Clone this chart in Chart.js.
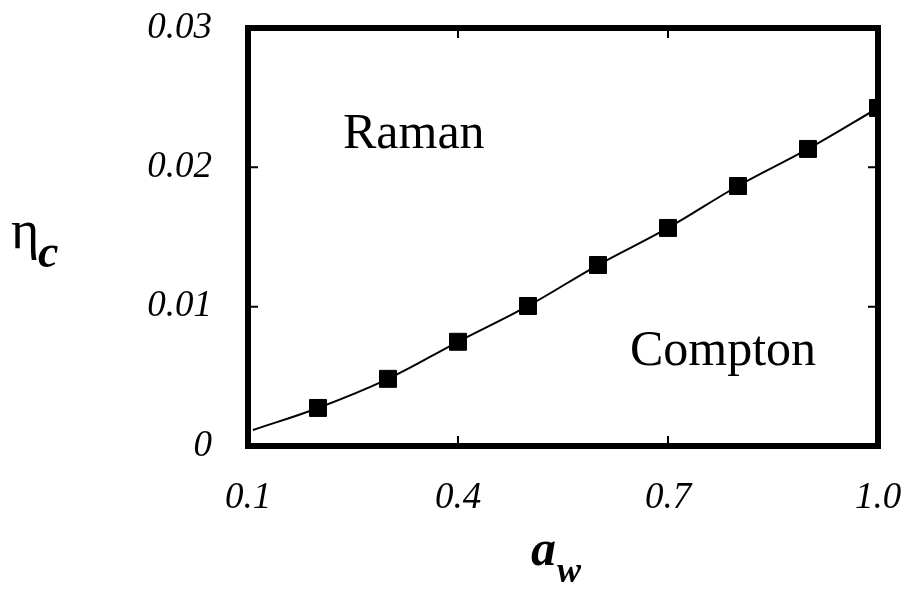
<!DOCTYPE html>
<html>
<head>
<meta charset="utf-8">
<script src="https://cdn.jsdelivr.net/npm/chart.js@4.4.1/dist/chart.umd.min.js"></script>
<style>
  html, body { margin: 0; padding: 0; background: #ffffff; }
  canvas { display: block; }
</style>
</head>
<body>
<canvas id="c" width="909" height="591"></canvas>
<script>
// Critical threshold eta_c versus wiggler parameter a_w
const awSamples   = [0.2, 0.3, 0.4, 0.5, 0.6, 0.7, 0.8, 0.9, 1.0];
const etaSamples  = [0.00273, 0.00482, 0.00748, 0.01005, 0.01299, 0.01565, 0.01866, 0.02132, 0.02426];
const awCurve     = [0.107, 0.2, 0.3, 0.4, 0.5, 0.6, 0.7, 0.8, 0.9, 1.0];
const etaCurve    = [0.00115, 0.00273, 0.00482, 0.00748, 0.01005, 0.01299, 0.01565, 0.01866, 0.02132, 0.02426];
const xTickValues = [0.1, 0.4, 0.7, 1.0];
const xTickLabels = ['0.1', '0.4', '0.7', '1.0'];
const yTickValues = [0, 0.01, 0.02, 0.03];
const yTickLabels = ['0', '0.01', '0.02', '0.03'];
const regionLabels = [
  { text: 'Raman',   x: 0.2357, y: 0.02139 },
  { text: 'Compton', x: 0.6457, y: 0.00581 }
];

const tickFont = { family: "'Liberation Serif', 'DejaVu Serif', serif", size: 37, style: 'italic' };

// Frame, inward ticks, region labels and axis titles
const decorations = {
  id: 'decorations',
  afterDatasetsDraw(chart) {
    const { ctx, chartArea: a, scales: { x, y } } = chart;
    ctx.save();
    ctx.strokeStyle = '#000';
    ctx.lineWidth = 2;
    const tl = 10;
    xTickValues.forEach(v => {
      const px = x.getPixelForValue(v);
      ctx.beginPath();
      ctx.moveTo(px, a.bottom); ctx.lineTo(px, a.bottom - tl);
      ctx.moveTo(px, a.top);    ctx.lineTo(px, a.top + tl);
      ctx.stroke();
    });
    yTickValues.forEach(v => {
      const py = y.getPixelForValue(v);
      ctx.beginPath();
      ctx.moveTo(a.left, py);  ctx.lineTo(a.left + tl, py);
      ctx.moveTo(a.right, py); ctx.lineTo(a.right - tl, py);
      ctx.stroke();
    });
    ctx.lineWidth = 6;
    ctx.strokeRect(a.left, a.top, a.right - a.left, a.bottom - a.top);

    ctx.fillStyle = '#000';
    ctx.textBaseline = 'alphabetic';
    ctx.textAlign = 'left';
    ctx.font = "50px 'Liberation Serif', serif";
    regionLabels.forEach(r => {
      ctx.fillText(r.text, x.getPixelForValue(r.x), y.getPixelForValue(r.y));
    });

    // y-axis title: eta with subscript c
    ctx.font = "54px 'Liberation Serif', serif";
    ctx.fillText('\u03b7', 11, 248);
    ctx.font = "italic bold 46px 'Liberation Serif', serif";
    ctx.fillText('c', 38, 267);

    // x-axis title: a with subscript w
    ctx.font = "italic bold 50px 'Liberation Serif', serif";
    ctx.fillText('a', 531, 565);
    ctx.font = "italic bold 36px 'Liberation Serif', serif";
    ctx.fillText('w', 557, 582);
    ctx.restore();
  }
};

new Chart(document.getElementById('c'), {
  type: 'scatter',
  data: {
    datasets: [
      {
        data: awCurve.map((v, i) => ({ x: v, y: etaCurve[i] })),
        showLine: true,
        borderColor: '#000',
        borderWidth: 2,
        pointRadius: 0,
        tension: 0.4,
        fill: false
      },
      {
        data: awSamples.map((v, i) => ({ x: v, y: etaSamples[i] })),
        showLine: false,
        pointStyle: 'rect',
        pointRadius: 12,
        pointBorderWidth: 1,
        pointBackgroundColor: '#000',
        pointBorderColor: '#000'
      }
    ]
  },
  options: {
    responsive: false,
    animation: false,
    layout: { padding: { top: 28, right: 31, left: 0, bottom: 0 } },
    plugins: { legend: { display: false }, tooltip: { enabled: false } },
    scales: {
      x: {
        type: 'linear',
        min: 0.1, max: 1.0,
        grid: { display: false, drawTicks: false },
        border: { display: false },
        afterBuildTicks: s => { s.ticks = xTickValues.map(v => ({ value: v })); },
        afterFit: s => { s.height = 145; s.paddingLeft = 0; s.paddingRight = 0; },
        ticks: {
          color: '#000',
          font: tickFont,
          padding: 30,
          maxRotation: 0,
          callback: v => xTickLabels[xTickValues.indexOf(v)]
        }
      },
      y: {
        min: 0, max: 0.03,
        grid: { display: false, drawTicks: false },
        border: { display: false },
        afterBuildTicks: s => { s.ticks = yTickValues.map(v => ({ value: v })); },
        afterFit: s => { s.width = 248; s.paddingTop = 0; s.paddingBottom = 0; },
        ticks: {
          color: '#000',
          font: tickFont,
          padding: 36,
          callback: v => yTickLabels[yTickValues.indexOf(v)]
        }
      }
    }
  },
  plugins: [decorations]
});
</script>
</body>
</html>
